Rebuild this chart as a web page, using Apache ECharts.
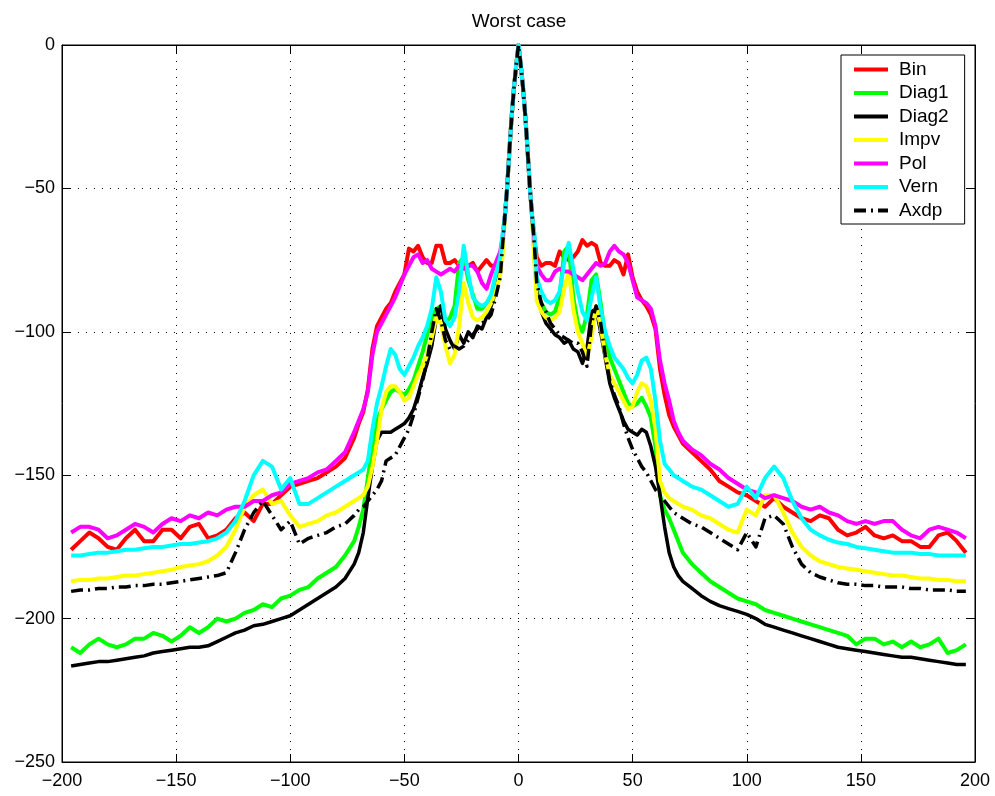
<!DOCTYPE html>
<html>
<head>
<meta charset="utf-8">
<title>Worst case</title>
<script src="https://cdn.jsdelivr.net/npm/echarts@6/dist/echarts.min.js"></script>
<style>
  html, body { margin: 0; padding: 0; background: #fff; }
  #chart { width: 995px; height: 796px; }
</style>
</head>
<body>
<div id="chart"></div>
<script>
// Sample positions shared by every curve (coarser in the tails, fine around the main lobe)
const freq = [
  -196, -192, -188, -184, -180, -176, -172, -168, -164, -160, -156, -152, -148, -144, -140, -136,
  -132, -128, -124, -120, -116, -112, -108, -104, -100, -96, -92, -88, -84, -80, -76, -72,
  -70, -68, -66, -64, -62, -60, -58, -56, -54, -52, -50, -48, -46, -44, -42, -40,
  -38, -36, -34, -32, -30, -28, -26, -24, -22, -20, -18, -16, -14, -12, -10, -8,
  -7, -6, -5, -4, -3, -2, -1, 0, 1, 2, 3, 4, 5, 6, 7,
  8, 10, 12, 14, 16, 18, 20, 22, 24, 26, 28, 30, 32, 34, 36, 38,
  40, 42, 44, 46, 48, 50, 52, 54, 56, 58, 60, 62, 64, 66, 68, 70,
  72, 76, 80, 84, 88, 92, 96, 100, 104, 108, 112, 116, 120, 124, 128, 132,
  136, 140, 144, 148, 152, 156, 160, 164, 168, 172, 176, 180, 184, 188, 192, 196
];

const bin = [
  -176, -173, -170, -172, -175, -176, -172, -169, -173, -173, -169, -169, -172, -168, -167, -172,
  -171, -169, -165, -163, -166, -160, -160, -157, -154, -153, -152, -151, -149, -147, -144, -137,
  -132, -128, -120, -106, -98, -95, -92, -90, -86, -83, -80, -71, -72, -70, -74, -76,
  -76, -70, -70, -76, -76, -75, -77, -76, -77, -76, -79, -77, -75, -77, -77, -76,
  -68, -60, -50, -37, -25, -15, -7, 0, -7, -15, -25, -37, -50, -60, -68,
  -74, -77, -76, -76, -77, -72, -74, -75, -74, -72, -68, -70, -69, -70, -76, -77,
  -77, -75, -76, -80, -73, -81, -86, -89, -91, -94, -99, -113, -122, -129, -133, -136,
  -139, -142, -145, -148, -152, -154, -156, -157, -159, -161, -158, -161, -163, -165, -166, -164,
  -165, -169, -171, -170, -168, -171, -172, -171, -173, -173, -175, -175, -171, -170, -173, -177
];

const diag1 = [
  -210, -212, -209, -207, -209, -210, -209, -207, -207, -205, -206, -208, -206, -203, -205, -203,
  -200, -201, -200, -198, -197, -195, -196, -193, -192, -190, -189, -186, -184, -182, -178, -173,
  -168, -162, -151, -140, -131, -127, -124, -121, -120, -121, -122, -120, -117, -112, -107, -101,
  -95, -92, -91, -97, -95, -91, -76, -74, -82, -87, -92, -92, -90, -88, -84, -79,
  -70, -60, -50, -37, -25, -15, -7, 0, -7, -15, -25, -37, -50, -60, -74,
  -86, -90, -93, -94, -93, -88, -72, -70, -88, -97, -100, -94, -82, -80, -90, -102,
  -109, -113, -117, -121, -125, -126, -125, -123, -126, -130, -140, -157, -162, -165, -169, -173,
  -177, -181, -184, -187, -189, -191, -193, -194, -195, -197, -198, -199, -200, -201, -202, -203,
  -204, -205, -206, -209, -207, -207, -209, -208, -210, -208, -210, -209, -207, -212, -211, -209
];

const diag2 = [
  -216.5, -216, -215.5, -215, -215, -214.5, -214, -213.5, -213, -212, -211.5, -211, -210.5, -210, -210, -209.5,
  -208, -206.5, -205, -204, -202.5, -202, -201, -200, -199, -197, -195, -193, -191, -189, -186, -181,
  -177, -170, -158, -147, -138, -135, -135, -135, -134, -133, -132, -130, -127, -122, -116, -111,
  -105, -95, -91, -99, -103, -106, -101, -104, -100, -102, -98, -99, -95, -91, -86, -79,
  -70, -60, -50, -37, -25, -15, -7, 0, -7, -15, -25, -37, -50, -60, -72,
  -86, -93, -97, -99, -101, -102, -104, -103, -106, -107, -111, -106, -93, -92, -100, -109,
  -118, -123, -127, -131, -134, -135, -136, -134, -135, -140, -147, -157, -168, -177, -182, -185,
  -187, -189.5, -192, -194, -195.5, -196.5, -197.5, -198.5, -200, -202, -203, -204, -205, -206, -207, -208,
  -209, -210, -210.5, -211, -211.5, -212, -212.5, -213, -213.5, -213.5, -214, -214.5, -215, -215.5, -216, -216
];

const impv = [
  -187, -186.5, -186.5, -186, -186, -185.5, -185, -185, -184.5, -184, -183.5, -183, -182, -181.5, -181, -180,
  -178, -175, -169, -161, -157, -155, -160, -159, -164, -168, -167, -166, -164, -163, -161, -159,
  -158, -157, -154, -147, -138, -127, -121, -119, -119, -121, -124, -123, -119, -115, -112, -108,
  -102, -95, -97, -105, -111, -108, -98, -83, -90, -95, -96, -95, -93, -90, -86, -80,
  -74, -60, -50, -37, -25, -15, -7, 0, -7, -15, -25, -37, -50, -60, -76,
  -89, -93, -95, -96, -95, -93, -85, -79, -92, -100, -104, -109, -102, -91, -98, -108,
  -115, -118, -121, -124, -127, -126, -121, -118, -119, -124, -134, -152, -156, -158, -159, -160,
  -161, -162, -164, -165, -167, -169, -170, -162, -164, -157, -157, -163, -170, -175, -178, -180,
  -181, -182, -182.5, -183, -183.5, -184, -184.5, -185, -185, -185.5, -186, -186, -186.5, -186.5, -187, -187
];

const pol = [
  -170, -168, -168, -169, -172, -171, -169, -167, -168, -170, -167, -165, -166, -164, -165, -163,
  -164, -162, -161, -161, -159, -159, -157, -156, -153, -152, -151, -149, -148, -145, -142, -135,
  -131, -127, -121, -108, -100, -97, -94, -91, -88, -84, -80, -77, -74, -73, -76, -75,
  -78, -79, -80, -79, -78, -79, -77, -78, -77, -77, -79, -83, -85, -80, -76, -72,
  -67, -60, -50, -37, -25, -15, -7, 0, -7, -15, -25, -37, -50, -60, -68,
  -77, -80, -82, -82, -79, -78, -79, -79, -80, -81, -82, -80, -78, -76, -77, -76,
  -72, -70, -72, -73, -76, -82, -88, -89, -90, -92, -98, -110, -118, -124, -131, -135,
  -138, -141, -143, -146, -148, -151, -153, -155, -156, -158, -157, -158, -159, -161, -162, -161,
  -163, -164, -166, -167, -166, -167, -166, -166, -169, -171, -172, -169, -168, -169, -170, -172
];

const vern = [
  -178, -178, -177.5, -177, -177, -176.5, -176, -176, -175.5, -175, -175, -174.5, -174, -174, -173.5, -173,
  -172, -170, -166, -159, -150, -145, -147, -155, -151, -160, -160, -158, -156, -154, -152, -150,
  -149, -148, -145, -134, -125, -119, -112, -106, -108, -113, -115, -112, -109, -105, -102, -98,
  -92, -81, -86, -96, -98, -95, -86, -70, -80, -88, -90, -91, -90, -87, -80, -74,
  -66, -60, -50, -37, -25, -15, -7, 0, -7, -15, -25, -37, -50, -60, -66,
  -81, -86, -89, -90, -89, -86, -76, -69, -78, -86, -93, -96, -88, -81, -92, -100,
  -105, -109, -111, -113, -116, -118, -115, -110, -109, -113, -124, -138, -146, -148, -150, -151,
  -152, -154, -155, -157, -159, -161, -160, -154, -158, -151, -147, -151, -159, -165, -169, -171,
  -172.5, -173.5, -174, -175, -175.5, -176, -176.5, -177, -177, -177, -177.5, -177.5, -178, -178, -178, -178
];

const axdp = [
  -190.5, -190, -190, -189.5, -189.5, -189, -189, -188.5, -188.5, -188, -188, -187.5, -187, -186.5, -186, -185.5,
  -185, -184, -177, -169, -163, -159, -164, -169, -166, -174, -172, -171, -170, -168, -167, -164,
  -162, -161, -159, -157, -155, -152, -145, -144, -143, -140, -137, -134, -129, -123, -117, -110,
  -100, -92, -96, -103, -106, -105, -106, -105, -103, -101, -99, -97, -96, -94, -88, -81,
  -70, -60, -50, -37, -25, -15, -7, 0, -7, -15, -25, -37, -50, -60, -70,
  -83, -90, -93, -97, -99, -101, -102, -103, -104, -104, -107, -112, -97, -91, -97, -108,
  -117, -122, -126, -132, -137, -141, -144, -147, -149, -152, -155, -157, -159, -161, -163, -164,
  -165, -167, -168, -170, -172, -174, -176, -170, -175, -165, -164, -167, -175, -181, -184, -185.5,
  -186.5, -187.5, -188, -188, -188.5, -188.5, -189, -189, -189, -189.5, -189.5, -190, -190, -190, -190.5, -190.5
];

const xTicks = { min: -200, max: 200, step: 50 };
const yTicks = { min: -250, max: 0, step: 50 };

const FONT = 'Liberation Sans, Arial, Helvetica, sans-serif';
const minus = v => (v < 0 ? '\u2212' + Math.abs(v) : String(v));

function curve(name, values, color, width, dash) {
  return {
    name: name,
    type: 'line',
    data: freq.map((f, i) => [f, values[i]]),
    symbol: 'none',
    showSymbol: false,
    smooth: false,
    animation: false,
    silent: true,
    lineStyle: { color: color, width: width, type: dash || 'solid', cap: 'butt', join: 'round' },
    itemStyle: { color: color },
    emphasis: { disabled: true }
  };
}

function valueAxis(range, pos, primary) {
  return {
    type: 'value',
    position: pos,
    min: range.min,
    max: range.max,
    interval: range.step,
    axisLine: { show: true, onZero: false, lineStyle: { color: '#000', width: 1 } },
    axisTick: { show: true, inside: true, length: 8, lineStyle: { color: '#000', width: 1 } },
    axisLabel: primary
      ? { show: true, color: '#000', fontSize: 18, fontFamily: FONT, formatter: minus,
          margin: pos === 'bottom' ? 10 : 7, lineHeight: 18 }
      : { show: false },
    splitLine: primary
      ? { show: true, lineStyle: { color: '#000', width: 1, type: [1, 7] } }
      : { show: false }
  };
}

const chart = echarts.init(document.getElementById('chart'), null, { renderer: 'canvas' });
chart.setOption({
  backgroundColor: '#fff',
  animation: false,
  grid: { left: 62, right: 20, top: 45, bottom: 34, show: true, borderColor: '#000', borderWidth: 1 },
  xAxis: [valueAxis(xTicks, 'bottom', true), valueAxis(xTicks, 'top', false)],
  yAxis: [valueAxis(yTicks, 'left', true), valueAxis(yTicks, 'right', false)],
  graphic: [{
    type: 'text', x: 519, y: 22, z: 10,
    style: { text: 'Worst case', fill: '#000', font: '19px ' + FONT,
             align: 'center', verticalAlign: 'middle', textAlign: 'center', textVerticalAlign: 'middle' }
  }],
  legend: {
    orient: 'vertical',
    left: 841,
    top: 55,
    selectedMode: false,
    itemWidth: 34,
    itemHeight: 14,
    itemGap: 4.5,
    padding: [5, 16, 4, 11],
    borderColor: '#000',
    borderWidth: 1,
    backgroundColor: '#fff',
    // plain line samples only: the marker normally drawn mid-line is made invisible
    itemStyle: { opacity: 0, color: 'rgba(0,0,0,0)', borderWidth: 0 },
    lineStyle: { width: 4 },
    textStyle: { color: '#000', fontSize: 19, fontFamily: FONT, lineHeight: 19, padding: [0, 0, 0, 6] },
    data: ['Bin', 'Diag1', 'Diag2', 'Impv', 'Pol', 'Vern', 'Axdp']
  },
  series: [
    curve('Bin', bin, '#ff0000', 4),
    curve('Diag1', diag1, '#00ff00', 4),
    curve('Diag2', diag2, '#000000', 3.5),
    curve('Impv', impv, '#ffff00', 4),
    curve('Pol', pol, '#ff00ff', 4),
    curve('Vern', vern, '#00ffff', 4),
    curve('Axdp', axdp, '#000000', 3.5, [12, 5, 2, 5])
  ]
});
</script>
</body>
</html>
